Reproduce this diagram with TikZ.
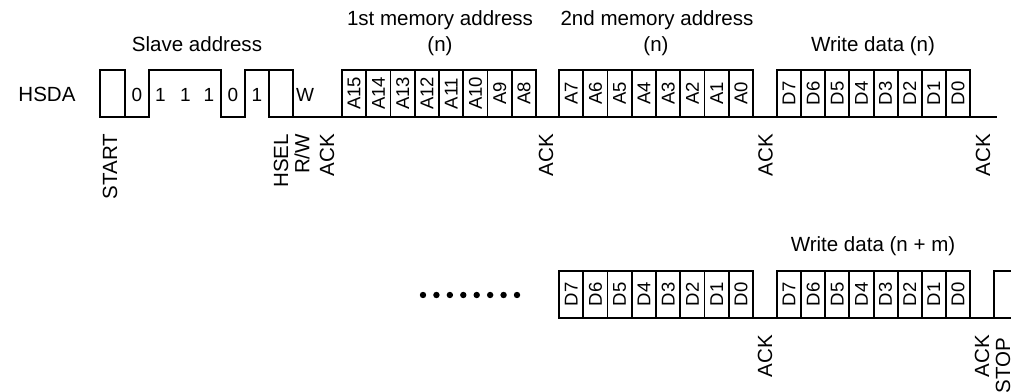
\documentclass[tikz,border=0pt]{standalone}
\usepackage{fontspec}
\usepackage{graphicx}
\setmainfont{Liberation Sans}
\begin{document}
\begin{tikzpicture}[x=0.75pt,y=-0.75pt,line width=1.4pt,line join=miter,
  cell/.style={draw,minimum width=18.19pt,minimum height=35.25pt,inner sep=0pt,outer sep=0pt,
    font=\fontsize{13.9pt}{16pt}\selectfont},
  lbl/.style={font=\fontsize{15.4pt}{18pt}\selectfont,inner sep=0pt,anchor=base},
  vlbl/.style={font=\fontsize{15.4pt}{18pt}\selectfont,inner sep=0pt,rotate=90,anchor=east},
  bit/.style={font=\fontsize{14.25pt}{16pt}\selectfont,inner sep=0pt,anchor=base}]
\clip (0,0) rectangle (1011,392);
% ---------- top row ----------
\node[lbl] (hsda) at (47,102) {HSDA};
\node[lbl] (slave) at (197,52) {Slave address};
\node[lbl] (mem1) at (440,26) {1st memory address};
\node[lbl] (mem1n) at (440,52) {(n)};
\node[lbl] (mem2) at (657,26) {2nd memory address};
\node[lbl] (mem2n) at (656,52) {(n)};
\node[lbl] (wd) at (873,52) {Write data (n)};

\node[cell,minimum width=18.75pt] (start) at (112.5,93.5) {};
\node[cell,minimum width=18pt] (hsel) at (281,93.5) {};
\coordinate (r1) at (149,117);
\coordinate (r1t) at (149,70);
\coordinate (f1t) at (221,70);
\coordinate (f1) at (221,117);
\coordinate (r2) at (245,117);
\coordinate (r2t) at (245,70);
\draw (start.south east) -- (r1) -- (r1t) -- (f1t) -- (f1) -- (r2) -- (r2t) -- (hsel.north west);

\node[bit] (b0) at (137,102) {0};
\node[bit] (b1) at (160.5,102) {1};
\node[bit] (b2) at (185.5,102) {1};
\node[bit] (b3) at (209,102) {1};
\node[bit] (b4) at (233,102) {0};
\node[bit] (b5) at (257,102) {1};
\node[bit] (bw) at (305,102) {W};

\foreach [count=\i from 0] \t in {A15,A14,A13,A12,A11,A10,A9,A8}
  \node[cell] (a\i) at ({342+24.25*(\i+0.5)},93.5) {\rotatebox{90}{\t}};
\foreach [count=\i from 0] \t in {A7,A6,A5,A4,A3,A2,A1,A0}
  \node[cell] (c\i) at ({559+24.25*(\i+0.5)},93.5) {\rotatebox{90}{\t}};
\foreach [count=\i from 0] \t in {D7,D6,D5,D4,D3,D2,D1,D0}
  \node[cell] (d\i) at ({777+24.125*(\i+0.5)},93.5) {\rotatebox{90}{\t}};
\coordinate (end1) at (997,117);
\draw (hsel.south east) -- (a0.south west);
\draw (a7.south east) -- (c0.south west);
\draw (c7.south east) -- (d0.south west);
\draw (d7.south east) -- (end1);

\node[vlbl] (lstart) at (110,133) {START};
\node[vlbl] (lhsel) at (281,133) {HSEL};
\node[vlbl] (lrw) at (302,133) {R/W};
\node[vlbl] (lack1) at (327,133) {ACK};
\node[vlbl] (lack2) at (546,133) {ACK};
\node[vlbl] (lack3) at (765.5,133) {ACK};
\node[vlbl] (lack4) at (983,133) {ACK};

% ---------- bottom row ----------
\node[lbl] (wdm) at (873,252) {Write data (n + m)};
\foreach \k in {0,...,7}
  \fill ({423+13.43*\k},295) circle (3.2);
\foreach [count=\i from 0] \t in {D7,D6,D5,D4,D3,D2,D1,D0}
  \node[cell] (e\i) at ({559+24.25*(\i+0.5)},294.5) {\rotatebox{90}{\t}};
\foreach [count=\i from 0] \t in {D7,D6,D5,D4,D3,D2,D1,D0}
  \node[cell] (g\i) at ({777+24.125*(\i+0.5)},294.5) {\rotatebox{90}{\t}};
\coordinate (sb) at (994,318);
\coordinate (st) at (994,271);
\coordinate (stopt) at (1016,271);
\coordinate (stopb) at (1016,318);
\draw (e7.south east) -- (g0.south west);
\draw (g7.south east) -- (sb) -- (stopb);
\draw (sb) -- (st) -- (stopt);

\node[vlbl] (lack5) at (765,334) {ACK};
\node[vlbl] (lack6) at (982,334) {ACK};
\node[vlbl] (lstop) at (1003,337) {STOP};
\end{tikzpicture}
\end{document}
